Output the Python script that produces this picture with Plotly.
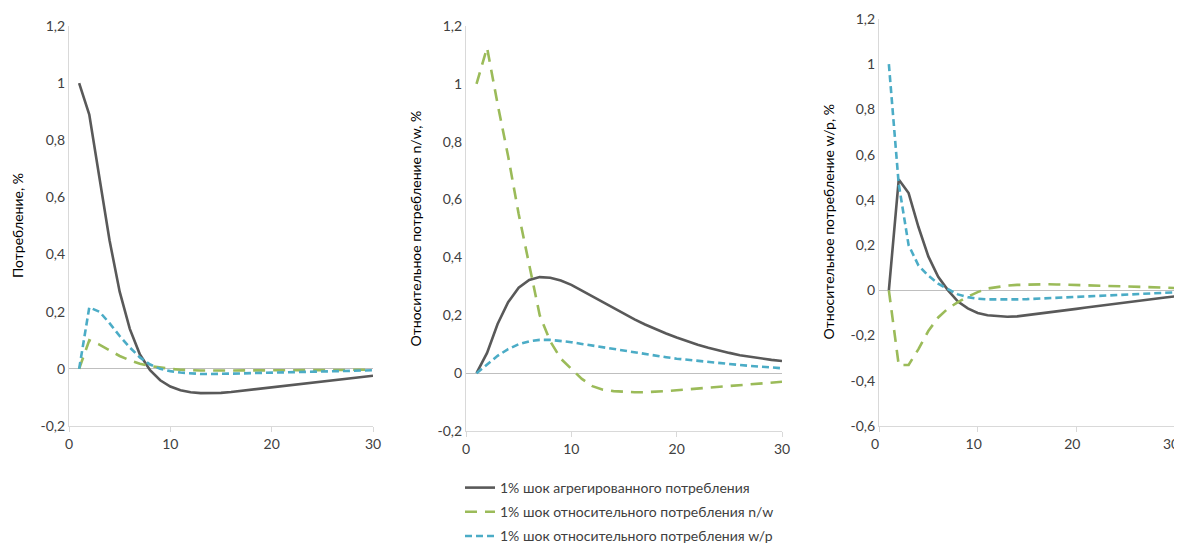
import plotly.graph_objects as go

periods = list(range(1, 31))

# Panel 1: Потребление
p1_agg = [1.0, 0.89, 0.67, 0.45, 0.27, 0.14, 0.05, -0.005, -0.04, -0.062, -0.075, -0.082, -0.085, -0.085, -0.084,
          -0.081, -0.077, -0.072, -0.068, -0.063, -0.059, -0.055, -0.051, -0.047, -0.043, -0.039, -0.035, -0.031, -0.028, -0.024]
p1_nw = [0.0, 0.10, 0.085, 0.065, 0.045, 0.03, 0.018, 0.01, 0.004, 0.0, -0.003, -0.005, -0.006, -0.006, -0.006,
         -0.006, -0.006, -0.006, -0.006, -0.006, -0.005, -0.005, -0.005, -0.005, -0.004, -0.004, -0.004, -0.003, -0.003, -0.003]
p1_wp = [0.0, 0.215, 0.20, 0.16, 0.115, 0.075, 0.04, 0.015, 0.0, -0.008, -0.013, -0.016, -0.018, -0.018, -0.018,
         -0.017, -0.016, -0.015, -0.014, -0.013, -0.012, -0.011, -0.010, -0.009, -0.008, -0.008, -0.007, -0.006, -0.006, -0.005]

# Panel 2: Относительное потребление n/w
p2_agg = [0.0, 0.07, 0.17, 0.245, 0.295, 0.322, 0.332, 0.33, 0.32, 0.305, 0.285, 0.265, 0.245, 0.225, 0.205,
          0.186, 0.168, 0.152, 0.137, 0.123, 0.11, 0.098, 0.088, 0.078, 0.07, 0.062, 0.056, 0.05, 0.046, 0.042]
p2_nw = [1.0, 1.125, 0.93, 0.75, 0.55, 0.37, 0.20, 0.11, 0.05, 0.015, -0.02, -0.045, -0.057, -0.062, -0.065,
         -0.066, -0.066, -0.065, -0.062, -0.059, -0.056, -0.053, -0.05, -0.047, -0.044, -0.041, -0.038, -0.035, -0.032, -0.03]
p2_wp = [0.0, 0.03, 0.06, 0.083, 0.10, 0.11, 0.115, 0.115, 0.112, 0.107, 0.101, 0.095, 0.089, 0.083, 0.077,
         0.071, 0.065, 0.06, 0.055, 0.05, 0.046, 0.042, 0.038, 0.034, 0.031, 0.028, 0.025, 0.022, 0.02, 0.017]

# Panel 3: Относительное потребление w/p
p3_agg = [0.0, 0.49, 0.43, 0.28, 0.15, 0.06, 0.0, -0.05, -0.08, -0.10, -0.11, -0.115, -0.117, -0.115, -0.11,
          -0.105, -0.1, -0.094, -0.088, -0.082, -0.076, -0.07, -0.064, -0.058, -0.052, -0.047, -0.042, -0.037, -0.032, -0.027]
p3_nw = [0.0, -0.33, -0.33, -0.26, -0.18, -0.12, -0.08, -0.052, -0.028, -0.008, 0.008, 0.016, 0.021, 0.024, 0.026,
         0.027, 0.027, 0.026, 0.025, 0.024, 0.023, 0.022, 0.021, 0.019, 0.018, 0.017, 0.015, 0.014, 0.012, 0.01]
p3_wp = [1.0, 0.47, 0.20, 0.11, 0.065, 0.03, 0.005, -0.018, -0.03, -0.037, -0.04, -0.041, -0.041, -0.04, -0.039,
         -0.037, -0.035, -0.033, -0.031, -0.029, -0.027, -0.025, -0.023, -0.021, -0.019, -0.017, -0.015, -0.013, -0.011, -0.009]

series_names = ["1% шок агрегированного потребления",
                "1% шок относительного потребления n/w",
                "1% шок относительного потребления w/p"]

y_titles = ["Потребление, %", "Относительное потребление n/w, %", "Относительное потребление w/p, %"]

x_ticks = [0, 10, 20, 30]
y_ticks_12 = [-0.2, 0, 0.2, 0.4, 0.6, 0.8, 1, 1.2]
y_labels_12 = ["-0,2", "0", "0,2", "0,4", "0,6", "0,8", "1", "1,2"]
y_ticks_3 = [-0.6, -0.4, -0.2, 0, 0.2, 0.4, 0.6, 0.8, 1, 1.2]
y_labels_3 = ["-0,6", "-0,4", "-0,2", "0", "0,2", "0,4", "0,6", "0,8", "1", "1,2"]

colors = ["#595959", "#9BBB59", "#4BACC6"]
dashes = ["solid", "12px,8px", "7px,4px"]

# the page body has an 8px margin, so the figure is offset by 8px in the screenshot
OFF = 8
W, H = 1182 - OFF, 550 - OFF
FONT = "Lato"

panels = [
    (p1_agg, p1_nw, p1_wp),
    (p2_agg, p2_nw, p2_wp),
    (p3_agg, p3_nw, p3_wp),
]

# screen-pixel boxes of plot areas (left, right, top, bottom)
boxes = [(69, 373, 26, 426), (466, 782, 26, 431), (879, 1175, 19, 426)]
title_x = [17, 415, 828]

fig = go.Figure()
for pi, data in enumerate(panels):
    xa = "x" if pi == 0 else f"x{pi+1}"
    ya = "y" if pi == 0 else f"y{pi+1}"
    for si, vals in enumerate(data):
        fig.add_trace(go.Scatter(
            x=periods, y=vals, mode="lines",
            name=series_names[si],
            legendgroup=f"g{si}",
            showlegend=(pi == 0),
            line=dict(color=colors[si], width=2.6, dash=dashes[si]),
            xaxis=xa, yaxis=ya, hoverinfo="skip",
        ))

layout = dict(
    width=W, height=H,
    paper_bgcolor="white", plot_bgcolor="white",
    margin=dict(l=0, r=0, t=0, b=0, autoexpand=False),
    font=dict(family=FONT, size=14, color="#404040"),
    showlegend=True,
    legend=dict(x=(460 - OFF) / W, y=1 - (472 - OFF) / H, xanchor="left", yanchor="top",
                font=dict(family=FONT, size=14, color="#404040"),
                tracegroupgap=3, bgcolor="rgba(0,0,0,0)"),
    annotations=[],
)

for pi in range(3):
    l, r, t, b = [v - OFF for v in boxes[pi]]
    xk = "xaxis" if pi == 0 else f"xaxis{pi+1}"
    yk = "yaxis" if pi == 0 else f"yaxis{pi+1}"
    ya = "y" if pi == 0 else f"y{pi+1}"
    xa = "x" if pi == 0 else f"x{pi+1}"
    if pi < 2:
        yt, yl, yr = y_ticks_12, y_labels_12, [-0.2, 1.2]
    else:
        yt, yl, yr = y_ticks_3, y_labels_3, [-0.6, 1.2]
    layout[xk] = dict(domain=[l / W, min(r / W, 1)], range=[0, 30], anchor=ya,
                      tickvals=x_ticks, ticktext=[str(v) for v in x_ticks],
                      showgrid=False, zeroline=False, showline=True,
                      linecolor="#D9D9D9", linewidth=1.2,
                      ticks="outside", ticklen=5, tickcolor="#D9D9D9",
                      tickfont=dict(family=FONT, size=14, color="#404040"),
                      ticklabeloverflow="allow",
                      ticklabelshift=(-4 if pi == 2 else 0),
                      automargin=False, fixedrange=True)
    layout[yk] = dict(domain=[1 - b / H, 1 - t / H], range=yr, anchor=xa,
                      tickvals=yt, ticktext=yl,
                      showgrid=False, zeroline=True, zerolinecolor="#BFBFBF", zerolinewidth=1.2,
                      showline=True, linecolor="#D9D9D9", linewidth=1.2, ticks="",
                      tickfont=dict(family=FONT, size=14, color="#404040"),
                      automargin=False, fixedrange=True)
    layout["annotations"].append(dict(
        text=y_titles[pi], textangle=-90, showarrow=False,
        xref="paper", yref="paper", x=(title_x[pi] - OFF) / W, y=1 - ((t + b) / 2) / H,
        xanchor="center", yanchor="middle",
        font=dict(family=FONT, size=14, color="#000000"),
    ))

fig.update_layout(**layout)
fig.write_html("out.html")
